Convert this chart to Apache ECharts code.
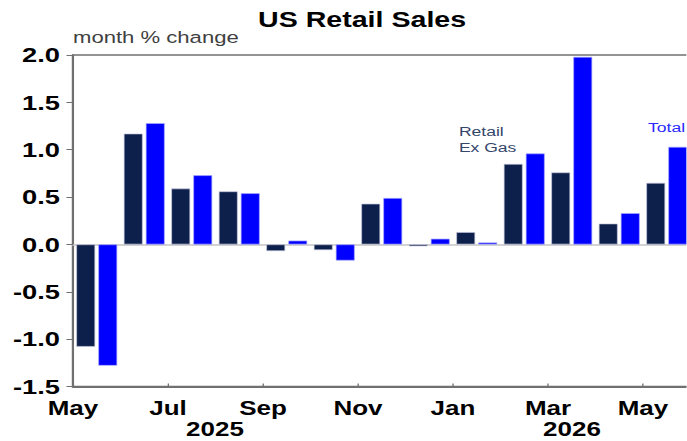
<!DOCTYPE html>
<html>
<head>
<meta charset="utf-8">
<script src="https://cdn.jsdelivr.net/npm/echarts@6/dist/echarts.min.js"></script>
<style>
  html, body { margin: 0; padding: 0; background: #fff; overflow: hidden; width: 687px; height: 441px; }
  #c { width: 528.46px; height: 441px; transform: scaleX(1.3); transform-origin: 0 0; }
</style>
</head>
<body>
<div id="c"></div>
<script>
// ---- data ----
const months = ['May','Jun','Jul','Aug','Sep','Oct','Nov','Dec','Jan','Feb','Mar','Apr','May'];
const exGas  = [-1.08, 1.17, 0.59, 0.56, -0.07, -0.06, 0.43, -0.02, 0.13, 0.85, 0.76, 0.22, 0.65];
const total  = [-1.28, 1.28, 0.73, 0.54, 0.04, -0.17, 0.49, 0.06, 0.02, 0.96, 1.98, 0.33, 1.03];
const yTicks = [-1.5, -1.0, -0.5, 0.0, 0.5, 1.0, 1.5, 2.0];
const years = ['2025', '2026'];
const titleText = 'US Retail Sales';
const unitText = 'month % change';
const seriesNames = ['Retail\nEx Gas', 'Total'];

const FONT = '"Liberation Sans", Arial, sans-serif';
const chart = echarts.init(document.getElementById('c'), null, { renderer: 'svg' });

chart.setOption({
  animation: false,
  backgroundColor: '#ffffff',
  grid: {
    left: 56.15, top: 55, width: 475, height: 331.5,
    containLabel: false, outerBoundsMode: 'none',
    show: true, borderColor: '#707070', borderWidth: 1.6, backgroundColor: 'transparent'
  },
  xAxis: [
    {
      type: 'category', data: months, position: 'bottom',
      axisLine: { show: true, onZero: true, lineStyle: { color: '#c4c4c4', width: 1.5 } },
      axisTick: { show: false }, axisLabel: { show: false }, splitLine: { show: false }
    },
    {
      type: 'value', min: 0, max: 13, interval: 2, position: 'bottom',
      axisLine: { show: true, onZero: false, lineStyle: { color: '#707070', width: 2 } },
      axisTick: { show: true, inside: true, length: 3, lineStyle: { color: '#707070', width: 1 } },
      splitLine: { show: false },
      axisLabel: {
        show: true, margin: 12, color: '#000', fontFamily: FONT, fontWeight: 'bold', fontSize: 20,
        formatter: v => (v % 2 === 0 && months[v] !== undefined) ? months[v] : ''
      }
    }
  ],
  yAxis: {
    type: 'value', min: yTicks[0], max: yTicks[yTicks.length - 1], interval: 0.5,
    axisLine: { show: true, onZero: false, lineStyle: { color: '#707070', width: 1.5 } },
    axisTick: { show: true, inside: false, length: 5, lineStyle: { color: '#707070', width: 1 } },
    splitLine: { show: false },
    axisLabel: {
      margin: 10, color: '#000', fontFamily: FONT, fontWeight: 'bold', fontSize: 21,
      formatter: v => v.toFixed(1)
    }
  },
  series: [
    {
      name: 'Retail Ex Gas', type: 'bar', xAxisIndex: 0, data: exGas,
      barWidth: 14.6, barGap: '16%',
      itemStyle: { color: '#0d1f4b', borderColor: '#c8cbe0', borderWidth: 0.6 }
    },
    {
      name: 'Total', type: 'bar', xAxisIndex: 0, data: total,
      barWidth: 14.6, barGap: '16%',
      itemStyle: { color: '#0000ff', borderColor: '#a8a8ff', borderWidth: 0.6 }
    }
  ],
  graphic: [
    { type: 'text', x: 278.5, y: 19.5, style: { text: titleText, fontFamily: FONT, fontWeight: 'bold', fontSize: 22, fill: '#000', textAlign: 'center', textVerticalAlign: 'middle' } },
    { type: 'text', x: 56.15, y: 37.4, style: { text: unitText, fontFamily: FONT, fontSize: 17, fill: '#404040', textAlign: 'left', textVerticalAlign: 'middle' } },
    { type: 'text', x: 353, y: 122.8, style: { text: seriesNames[0], fontFamily: FONT, fontSize: 13.5, lineHeight: 16.5, fill: '#34466a', textAlign: 'left', textVerticalAlign: 'top' } },
    { type: 'text', x: 498.5, y: 127, style: { text: seriesNames[1], fontFamily: FONT, fontSize: 13.5, fill: '#2a2aff', textAlign: 'left', textVerticalAlign: 'middle' } },
    { type: 'text', x: 165.4, y: 429.5, style: { text: years[0], fontFamily: FONT, fontWeight: 'bold', fontSize: 20, fill: '#000', textAlign: 'center', textVerticalAlign: 'middle' } },
    { type: 'text', x: 440, y: 429.5, style: { text: years[1], fontFamily: FONT, fontWeight: 'bold', fontSize: 20, fill: '#000', textAlign: 'center', textVerticalAlign: 'middle' } }
  ]
});
</script>
</body>
</html>
